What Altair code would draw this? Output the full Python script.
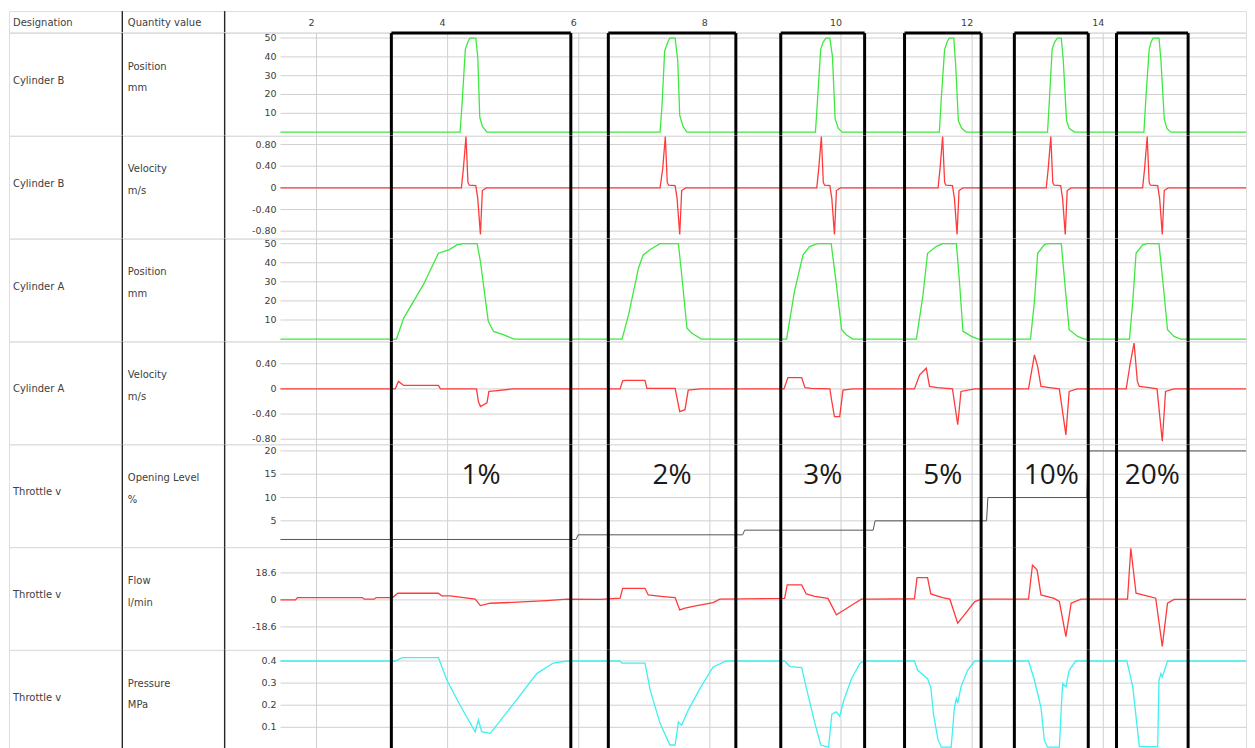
import altair as alt
import pandas as pd

# ---------------- data ----------------
x_tick_values = [2, 4, 6, 8, 10, 12, 14]
x_tick_labels = ["2", "4", "6", "8", "10", "12", "14"]

box_start = [3.142, 6.451, 9.081, 10.969, 12.644, 14.202]
box_end = [5.879, 8.396, 10.360, 12.137, 13.771, 15.294]
box_text = ["1%", "2%", "3%", "5%", "10%", "20%"]
box_text_level = 14.7

designations = ["Cylinder B", "Cylinder B", "Cylinder A", "Cylinder A",
                "Throttle v", "Throttle v", "Throttle v"]
quantity_names = ["Position", "Velocity", "Position", "Velocity",
                  "Opening Level", "Flow", "Pressure"]
quantity_units = ["mm", "m/s", "mm", "m/s", "%", "l/min", "MPa"]

y_ticks = [
    [50, 40, 30, 20, 10],
    [0.8, 0.4, 0, -0.4, -0.8],
    [50, 40, 30, 20, 10],
    [0.4, 0, -0.4, -0.8],
    [20, 15, 10, 5],
    [18.6, 0, -18.6],
    [0.4, 0.3, 0.2, 0.1],
]
y_tick_labels = [
    ["50", "40", "30", "20", "10"],
    ["0.80", "0.40", "0", "-0.40", "-0.80"],
    ["50", "40", "30", "20", "10"],
    ["0.40", "0", "-0.40", "-0.80"],
    ["20", "15", "10", "5"],
    ["18.6", "0", "-18.6"],
    ["0.4", "0.3", "0.2", "0.1"],
]
y_domains = [
    [-1.88, 52.65],
    [-0.935, 0.960],
    [-1.18, 52.6],
    [-0.878, 0.753],
    [-0.61, 21.4],
    [-34.4, 36.3],
    [-0.0146, 0.4495],
]

cyl_b_position = [
    (1.45, 0), (4.19, 0), (4.22, 15), (4.27, 44), (4.31, 48), (4.34, 50), (4.43, 50),
    (4.46, 40), (4.49, 8), (4.53, 3), (4.60, 0),
    (7.24, 0), (7.27, 14), (7.31, 43), (7.36, 48), (7.39, 50), (7.47, 50),
    (7.51, 38), (7.54, 9), (7.59, 3), (7.65, 0),
    (9.61, 0), (9.64, 16), (9.69, 44), (9.73, 48), (9.77, 50), (9.83, 50),
    (9.87, 40), (9.91, 7), (9.96, 2), (10.02, 0),
    (11.50, 0), (11.53, 18), (11.58, 44), (11.62, 48), (11.65, 50), (11.72, 50),
    (11.75, 35), (11.79, 6), (11.84, 2), (11.91, 0),
    (13.15, 0), (13.18, 18), (13.22, 44), (13.26, 48), (13.30, 50), (13.36, 50),
    (13.39, 38), (13.44, 6), (13.48, 2), (13.56, 0),
    (14.62, 0), (14.65, 18), (14.70, 44), (14.73, 48), (14.76, 50), (14.85, 50),
    (14.88, 38), (14.93, 7), (14.97, 2), (15.03, 0), (16.30, 0),
]

cyl_b_velocity = [
    (1.45, 0),
    (4.21, 0), (4.24, 0.35), (4.28, 0.95), (4.31, 0.10), (4.33, 0.05), (4.43, 0.04),
    (4.46, -0.20), (4.50, -0.86), (4.53, -0.05), (4.59, 0),
    (7.24, 0), (7.28, 0.35), (7.32, 0.95), (7.35, 0.10), (7.37, 0.05), (7.47, 0.04),
    (7.50, -0.20), (7.54, -0.86), (7.57, -0.05), (7.63, 0),
    (9.63, 0), (9.66, 0.35), (9.70, 0.95), (9.73, 0.10), (9.75, 0.05), (9.83, 0.04),
    (9.86, -0.20), (9.90, -0.86), (9.93, -0.05), (9.99, 0),
    (11.48, 0), (11.51, 0.35), (11.55, 0.95), (11.58, 0.10), (11.60, 0.05), (11.70, 0.04),
    (11.73, -0.20), (11.77, -0.86), (11.80, -0.05), (11.86, 0),
    (13.13, 0), (13.16, 0.35), (13.20, 0.95), (13.23, 0.10), (13.25, 0.05), (13.35, 0.04),
    (13.38, -0.20), (13.42, -0.86), (13.45, -0.05), (13.51, 0),
    (14.60, 0), (14.63, 0.35), (14.67, 0.95), (14.70, 0.10), (14.72, 0.05), (14.83, 0.04),
    (14.86, -0.20), (14.90, -0.86), (14.93, -0.05), (14.99, 0),
    (16.30, 0),
]

cyl_a_position = [
    (1.45, 0),
    (3.22, 0), (3.33, 11), (3.63, 28.5), (3.86, 45), (4.02, 46.8), (4.14, 49.4),
    (4.24, 50), (4.45, 50), (4.50, 40.7), (4.62, 9.3), (4.70, 4), (4.85, 2.3), (5.01, 0),
    (6.66, 0), (6.76, 12.8), (6.91, 37), (6.98, 44), (7.09, 47), (7.24, 50),
    (7.52, 50), (7.57, 33.7), (7.65, 5.8), (7.72, 3.2), (7.87, 0),
    (9.17, 0), (9.29, 25), (9.42, 44), (9.52, 48.5), (9.64, 50), (9.85, 50),
    (9.93, 28.5), (10.01, 4.9), (10.08, 2.3), (10.18, 0),
    (11.15, 0), (11.25, 23), (11.32, 45), (11.45, 48.5), (11.55, 50), (11.76, 50),
    (11.81, 28.5), (11.86, 4), (11.99, 1.4), (12.09, 0),
    (12.89, 0), (12.95, 19.7), (13.00, 45), (13.10, 49.4), (13.15, 50), (13.36, 50),
    (13.43, 23), (13.48, 4.9), (13.61, 1.4), (13.71, 0),
    (14.40, 0), (14.45, 19.7), (14.50, 45), (14.60, 49.4), (14.67, 50), (14.85, 50),
    (14.93, 23), (14.98, 4.9), (15.08, 1.4), (15.18, 0),
    (16.30, 0),
]

cyl_a_velocity = [
    (1.45, 0),
    (3.20, 0), (3.25, 0.12), (3.33, 0.055), (3.86, 0.055), (3.89, 0), (4.44, 0),
    (4.47, -0.2), (4.50, -0.28), (4.60, -0.22), (4.63, -0.04), (4.72, -0.03), (5.00, 0),
    (6.63, 0), (6.67, 0.13), (6.71, 0.135), (7.01, 0.135), (7.04, 0.01), (7.47, 0.01),
    (7.51, -0.2), (7.54, -0.36), (7.62, -0.33), (7.67, -0.02), (7.85, 0),
    (9.13, 0), (9.19, 0.18), (9.40, 0.18), (9.45, 0.02), (9.55, 0.01), (9.83, 0),
    (9.86, -0.2), (9.90, -0.44), (9.98, -0.44), (10.03, -0.02), (10.18, 0),
    (11.12, 0), (11.20, 0.225), (11.30, 0.33), (11.35, 0.04), (11.47, 0.02), (11.70, 0),
    (11.78, -0.57), (11.83, -0.04), (12.04, 0),
    (12.86, 0), (12.95, 0.54), (13.00, 0.35), (13.05, 0.04), (13.18, 0.02), (13.33, 0),
    (13.43, -0.73), (13.48, -0.04), (13.60, 0),
    (14.35, 0), (14.41, 0.4), (14.47, 0.73), (14.52, 0.12), (14.55, 0.04), (14.70, 0.02),
    (14.82, 0), (14.90, -0.83), (14.95, -0.04), (15.08, 0),
    (16.30, 0),
]

throttle_opening = [
    (1.45, 1), (5.96, 1), (5.99, 2), (8.50, 2), (8.53, 3), (10.49, 3),
    (10.52, 5), (12.22, 5), (12.24, 10), (13.75, 10), (13.77, 20), (16.30, 20),
]

throttle_flow = [
    (1.45, 0), (1.68, 0), (1.71, 1.6), (2.70, 1.6), (2.73, 0.5), (2.88, 0.5), (2.91, 1.6),
    (3.16, 1.6), (3.24, 4.6), (3.86, 4.6), (3.91, 2.8), (4.04, 2.8), (4.42, 0.5),
    (4.50, -3.9), (4.65, -2.3), (5.06, -1.6), (5.51, -0.5), (5.82, 0.5), (6.33, 0.3), (6.63, 1.2),
    (6.67, 8), (7.01, 8), (7.06, 3.4), (7.29, 2.3), (7.47, 1.6), (7.54, -6.9), (7.62, -5.7),
    (7.80, -3.9), (8.05, -1.8), (8.15, 0.5), (8.51, 0.7), (9.14, 1.0),
    (9.18, 10.3), (9.40, 10.3), (9.47, 4.1), (9.60, 2.5), (9.80, 1.0), (9.93, -10.3),
    (10.01, -8), (10.21, -2.3), (10.31, 0.5), (10.50, 0.5), (11.12, 0.8),
    (11.16, 15.4), (11.32, 15.4), (11.37, 4.1), (11.55, 1.5), (11.66, 0.5), (11.78, -16),
    (11.86, -11.5), (12.04, -1.2), (12.14, 0.5), (12.86, 0.5),
    (12.92, 24), (12.99, 20.7), (13.05, 3.4), (13.25, 1.0), (13.33, -1), (13.43, -25.3),
    (13.51, -2.3), (13.66, 0.5), (14.37, 0.5),
    (14.42, 35.5), (14.50, 4.6), (14.80, 1.2), (14.90, -32), (14.98, -2.3), (15.08, 0.3),
    (16.30, 0.3),
]

throttle_pressure = [
    (1.45, 0.4), (3.20, 0.4), (3.31, 0.415), (3.86, 0.415), (3.99, 0.313), (4.19, 0.2),
    (4.42, 0.08), (4.47, 0.133), (4.52, 0.08), (4.65, 0.073), (5.01, 0.208), (5.36, 0.343),
    (5.61, 0.391), (5.82, 0.4),
    (6.63, 0.4), (6.66, 0.39), (7.01, 0.39), (7.09, 0.268), (7.24, 0.118), (7.39, 0.02),
    (7.47, 0.02), (7.52, 0.125), (7.57, 0.11), (7.67, 0.178), (7.85, 0.276), (8.05, 0.373),
    (8.25, 0.4),
    (9.14, 0.4), (9.22, 0.375), (9.40, 0.37), (9.47, 0.28), (9.60, 0.12), (9.69, 0.02),
    (9.81, 0.01), (9.86, 0.16), (9.93, 0.17), (9.98, 0.15), (10.04, 0.22), (10.16, 0.32),
    (10.29, 0.39), (10.36, 0.4),
    (11.12, 0.4), (11.17, 0.358), (11.32, 0.32), (11.37, 0.28), (11.41, 0.16), (11.48, 0.043),
    (11.53, 0.01), (11.68, 0.01), (11.73, 0.19), (11.76, 0.23), (11.78, 0.21), (11.83, 0.283),
    (11.93, 0.358), (12.04, 0.4),
    (12.86, 0.4), (12.95, 0.313), (13.05, 0.19), (13.10, 0.043), (13.15, 0.01), (13.33, 0.01),
    (13.36, 0.19), (13.38, 0.298), (13.43, 0.283), (13.48, 0.358), (13.58, 0.4),
    (14.36, 0.4), (14.45, 0.283), (14.50, 0.148), (14.55, 0.013), (14.83, 0.013), (14.85, 0.313),
    (14.88, 0.343), (14.90, 0.328), (14.98, 0.4), (16.30, 0.4),
]

series = [cyl_b_position, cyl_b_velocity, cyl_a_position, cyl_a_velocity,
          throttle_opening, throttle_flow, throttle_pressure]
series_colors = ["#3fe83f", "#ff3a3a", "#3fe83f", "#ff3a3a", "#555555", "#ff3a3a", "#3ff0f0"]
series_widths = [1.3, 1.3, 1.3, 1.3, 1.0, 1.3, 1.3]

# ---------------- layout / style ----------------
T_START, T_END = -2.690, 16.177    # x-scale domain across the full table width
GRID_START = 1.452                 # where the plot area (grid lines) begins
LABEL_T = 1.39                     # y tick labels (right aligned)
W_TABLE = 1239
COL_BORDERS = [113.5, 216]         # table column separators (px)
DES_X, QTY_X = 4, 119              # text indents (px)
H_HEAD, H_ROW = 21.2, 102.75
FONT = "DejaVu Sans"
TXT = "#404040"
GRID = "#d0d0d0"
BORDER = "#262626"


def xscale():
    return alt.Scale(domain=[T_START, T_END], nice=False, zero=False)


def text_layer(txt, xpos, ypos):
    return (
        alt.Chart(pd.DataFrame({"txt": [txt]}))
        .mark_text(align="left", baseline="middle", font=FONT, fontSize=10, color=TXT)
        .encode(x=alt.value(xpos), y=alt.value(ypos), text="txt:N")
    )


def borders_layer():
    return (
        alt.Chart(pd.DataFrame({"px": COL_BORDERS}))
        .mark_rule(color=BORDER, strokeWidth=1.4)
        .encode(x=alt.X("px:Q", scale=None, axis=None))
    )


def header_row():
    df = pd.DataFrame({"t": x_tick_values, "lab": x_tick_labels})
    ticks = (
        alt.Chart(df)
        .mark_text(align="center", baseline="middle", font=FONT, fontSize=9.5, color=TXT, dx=-5)
        .encode(x=alt.X("t:Q", scale=xscale(), axis=None), y=alt.value(12), text="lab:N")
    )
    return alt.layer(
        borders_layer(),
        text_layer("Designation", DES_X, 12),
        text_layer("Quantity value", QTY_X, 12),
        ticks,
    ).properties(width=W_TABLE, height=H_HEAD)


def data_row(i):
    ys = alt.Scale(domain=y_domains[i], nice=False, zero=False)
    vgrid = (
        alt.Chart(pd.DataFrame({"t": x_tick_values}))
        .mark_rule(color=GRID, strokeWidth=1)
        .encode(x=alt.X("t:Q", scale=xscale(), axis=None))
    )
    hg = pd.DataFrame({"v": y_ticks[i], "a": GRID_START, "b": T_END})
    hgrid = (
        alt.Chart(hg)
        .mark_rule(color=GRID, strokeWidth=1)
        .encode(x=alt.X("a:Q", scale=xscale(), axis=None), x2="b:Q",
                y=alt.Y("v:Q", scale=ys, axis=None))
    )
    lab = pd.DataFrame({"v": y_ticks[i], "lab": y_tick_labels[i], "a": LABEL_T})
    labels = (
        alt.Chart(lab)
        .mark_text(align="right", baseline="middle", font=FONT, fontSize=9.5, color=TXT)
        .encode(x=alt.X("a:Q", scale=xscale(), axis=None),
                y=alt.Y("v:Q", scale=ys, axis=None), text="lab:N")
    )
    s = pd.DataFrame(series[i], columns=["t", "v"])
    line = (
        alt.Chart(s)
        .mark_line(color=series_colors[i], strokeWidth=series_widths[i], clip=True)
        .encode(x=alt.X("t:Q", scale=xscale(), axis=None),
                y=alt.Y("v:Q", scale=ys, axis=None), order="t:Q")
    )
    edges = (
        alt.Chart(pd.DataFrame({"t": box_start + box_end}))
        .mark_rule(color="#000000", strokeWidth=3)
        .encode(x=alt.X("t:Q", scale=xscale(), axis=None))
    )
    layers = [vgrid, hgrid, borders_layer(),
              text_layer(designations[i], DES_X, 48),
              text_layer(quantity_names[i], QTY_X, 33.5),
              text_layer(quantity_units[i], QTY_X, 55.5),
              labels, line, edges]
    if i == 0:
        top = pd.DataFrame({"a": box_start, "b": box_end, "y": y_domains[0][1]})
        layers.append(
            alt.Chart(top)
            .mark_rule(color="#000000", strokeWidth=3)
            .encode(x=alt.X("a:Q", scale=xscale(), axis=None), x2="b:Q",
                    y=alt.Y("y:Q", scale=ys, axis=None))
        )
    if i == 4:
        pct = pd.DataFrame({
            "t": [(a + b) / 2 for a, b in zip(box_start, box_end)],
            "y": box_text_level,
            "txt": box_text,
        })
        layers.append(
            alt.Chart(pct)
            .mark_text(align="center", baseline="middle", font="Open Sans",
                       fontSize=28, color="#1a1a1a")
            .encode(x=alt.X("t:Q", scale=xscale(), axis=None),
                    y=alt.Y("y:Q", scale=ys, axis=None), text="txt:N")
        )
    return alt.layer(*layers).properties(width=W_TABLE, height=H_ROW)


rows = [header_row()] + [data_row(i) for i in range(7)]

chart = (
    alt.vconcat(*rows, spacing=0, bounds="flush")
    .properties(padding={"left": 0, "top": 0.5, "right": 0, "bottom": 0})
    .configure_view(stroke=BORDER, strokeWidth=1.4)
    .configure(background="white")
)

chart.save("out.html", embed_options={"renderer": "svg", "actions": False})
